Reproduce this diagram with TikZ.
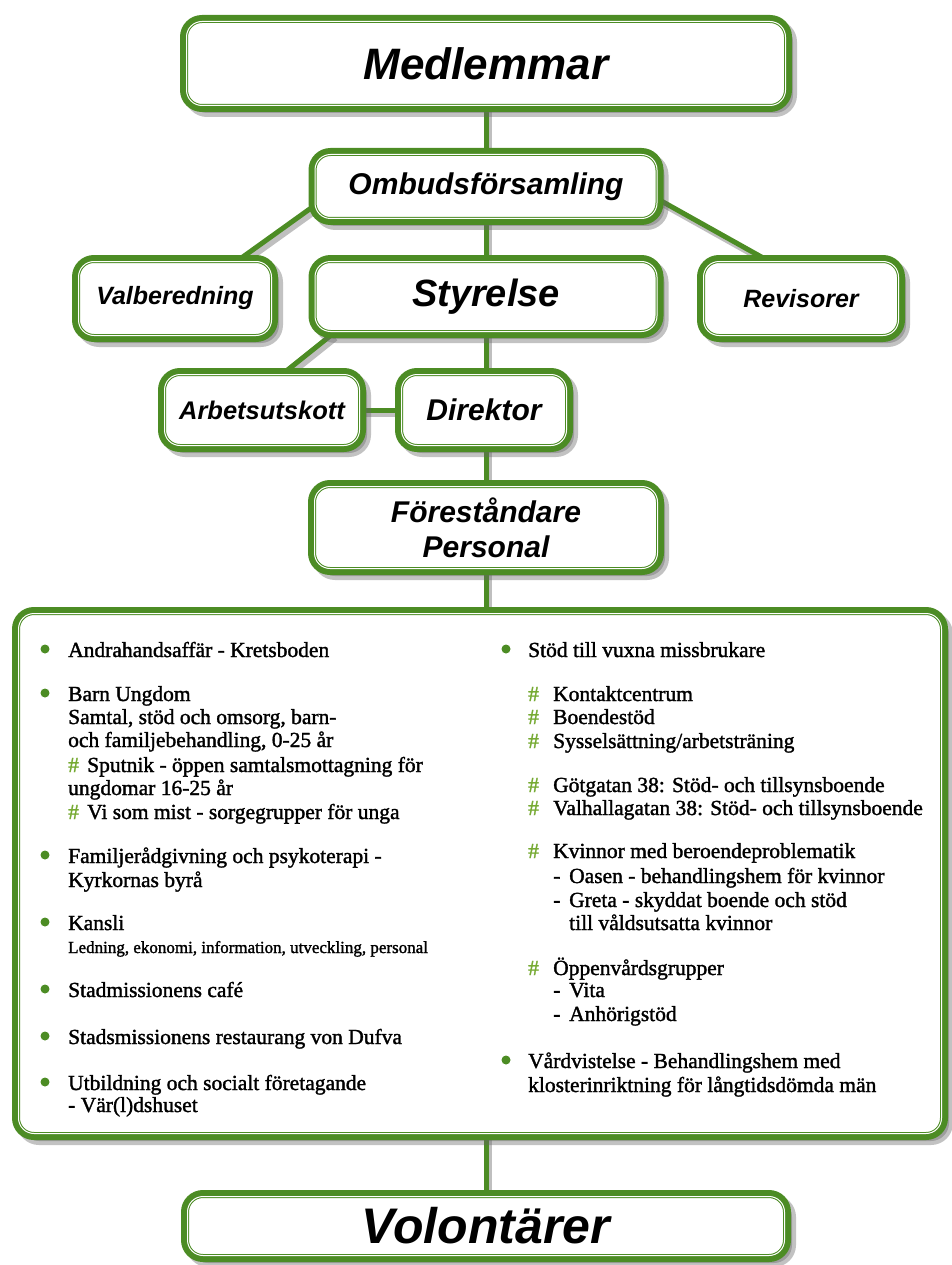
\documentclass[tikz,border=0pt]{standalone}
\usepackage{fontspec}
\setmainfont{Liberation Serif}
\newfontfamily\bodyfont{Liberation Serif}[FakeBold=1.5]
\setsansfont{Liberation Sans}
\usetikzlibrary{shadows,backgrounds,calc}
\definecolor{gr}{RGB}{76,140,36}
\definecolor{hashc}{RGB}{118,170,50}
\newcommand\hsh{\textcolor{hashc}{\#}}
\newcommand\gnode[7]{%
  \node[gbox, minimum width=#4pt, minimum height=#5pt,
        font=\sffamily\bfseries\itshape\fontsize{#6}{35}\selectfont] (#1) at (#2,#3) {#7};
  \draw[innerline] ([shift={(2.5pt,2.5pt)}]#1.south west) rectangle ([shift={(-2.5pt,-2.5pt)}]#1.north east);}
\begin{document}
\begin{tikzpicture}[x=1pt,y=-1pt,
  gbox/.style={draw=gr, line width=8pt, fill=white, rounded corners=18pt, outer sep=0pt, inner sep=0pt,
    align=center,
    drop shadow={shadow xshift=5pt, shadow yshift=-5pt, opacity=.4, fill=black!60, draw=black!60, line width=8pt}},
  innerline/.style={draw=white, line width=1pt, rounded corners=15.5pt},
  conn/.style={draw=gr, line width=5pt,
    preaction={draw=black, opacity=.25, line width=6pt, transform canvas={xshift=3pt,yshift=-4pt}}},
  txt/.style={anchor=base west, inner sep=0pt, font=\bodyfont\fontsize{21.5}{23.6}\selectfont},
  smalltxt/.style={anchor=base west, inner sep=0pt, font=\bodyfont\fontsize{17}{20}\selectfont},
  bul/.style={fill=gr}]
\useasboundingbox (0,0) rectangle (952,1265);

\gnode{med}{486}{63.5}{604}{89}{44}{Medlemmar}
\gnode{omb}{486}{186.5}{347}{69}{30}{Ombudsförsamling}
\gnode{val}{175}{298.5}{198}{79}{25}{Valberedning}
\gnode{sty}{486}{296.5}{347}{75}{38}{Styrelse}
\gnode{rev}{801}{298.5}{200}{79}{25}{Revisorer}
\gnode{arb}{262}{410}{200}{76}{25.5}{Arbetsutskott}
\gnode{dir}{484}{410}{170}{76}{30}{Direktor}
\gnode{fore}{486}{527.5}{348}{87}{30}{Föreståndare\\Personal}
\gnode{big}{480}{873.5}{928}{525}{20}{}
\gnode{vol}{486}{1226}{602}{64}{50}{Volontärer}

\begin{pgfonlayer}{background}
\draw[conn] (med.south) -- (omb.north);
\draw[conn] (omb.south) -- (sty.north);
\draw[conn] (sty.south) -- (sty.south |- dir.north);
\draw[conn] (dir.north -| fore.north) -- (fore.north);
\draw[conn] (fore.south) -- (fore.south |- big.north);
\draw[conn] (big.south -| vol.north) -- (vol.north);
\draw[conn] ([yshift=14pt]omb.south west) -- ([xshift=-34pt]val.north east);
\draw[conn] ([yshift=21pt]omb.south east) -- ([xshift=64pt]rev.north west);
\draw[conn] ([xshift=20pt]sty.south west) -- ([xshift=123pt]arb.north west);
\draw[conn] (arb.east) -- (dir.west);
\end{pgfonlayer}

% bullets
\foreach \yy in {657,701,863,930,997,1044,1090} \fill[bul] (45,\yy-8) circle (4.5pt);
\foreach \yy in {657,1068} \fill[bul] (506,\yy-8) circle (4.5pt);

% left column
\node[txt] (l1) at (68,657) {Andrahandsaffär - Kretsboden};
\node[txt] (l2) at (68,701) {Barn Ungdom};
\node[txt] (l3) at (68,724) {Samtal, stöd och omsorg, barn-};
\node[txt] (l4) at (68,747) {och familjebehandling, 0-25 år};
\node[txt] (l5) at (68,772) {\makebox[19pt][l]{\hsh}Sputnik - öppen samtalsmottagning för};
\node[txt] (l6) at (68,795) {ungdomar 16-25 år};
\node[txt] (l7) at (68,819) {\makebox[19pt][l]{\hsh}Vi som mist - sorgegrupper för unga};
\node[txt] (l8) at (68,863) {Familjerådgivning och psykoterapi -};
\node[txt] (l9) at (68,887) {Kyrkornas byrå};
\node[txt] (l10) at (68,930) {Kansli};
\node[smalltxt] (l11) at (68,953) {Ledning, ekonomi, information, utveckling, personal};
\node[txt] (l12) at (68,997) {Stadmissionens café};
\node[txt] (l13) at (68,1044) {Stadsmissionens restaurang von Dufva};
\node[txt] (l14) at (68,1090) {Utbildning och socialt företagande};
\node[txt] (l15) at (68,1112) {- Vär(l)dshuset};

% right column
\node[txt] (r1) at (528,657) {Stöd till vuxna missbrukare};
\node[txt] (r2) at (528,701) {\makebox[25pt][l]{\hsh}Kontaktcentrum};
\node[txt] (r3) at (528,724) {\makebox[25pt][l]{\hsh}Boendestöd};
\node[txt] (r4) at (528,748) {\makebox[25pt][l]{\hsh}Sysselsättning/arbetsträning};
\node[txt] (r5) at (528,792) {\makebox[25pt][l]{\hsh}Götgatan 38: Stöd- och tillsynsboende};
\node[txt] (r6) at (528,815) {\makebox[25pt][l]{\hsh}Valhallagatan 38: Stöd- och tillsynsboende};
\node[txt] (r7) at (528,858) {\makebox[25pt][l]{\hsh}Kvinnor med beroendeproblematik};
\node[txt] (r8) at (553,883) {\makebox[16pt][l]{-}Oasen - behandlingshem för kvinnor};
\node[txt] (r9) at (553,907) {\makebox[16pt][l]{-}Greta - skyddat boende och stöd};
\node[txt] (r10) at (569,930) {till våldsutsatta kvinnor};
\node[txt] (r11) at (528,975) {\makebox[25pt][l]{\hsh}Öppenvårdsgrupper};
\node[txt] (r12) at (553,997) {\makebox[16pt][l]{-}Vita};
\node[txt] (r13) at (553,1021) {\makebox[16pt][l]{-}Anhörigstöd};
\node[txt] (r14) at (528,1068) {Vårdvistelse - Behandlingshem med};
\node[txt] (r15) at (528,1092) {klosterinriktning för långtidsdömda män};
\end{tikzpicture}
\end{document}
